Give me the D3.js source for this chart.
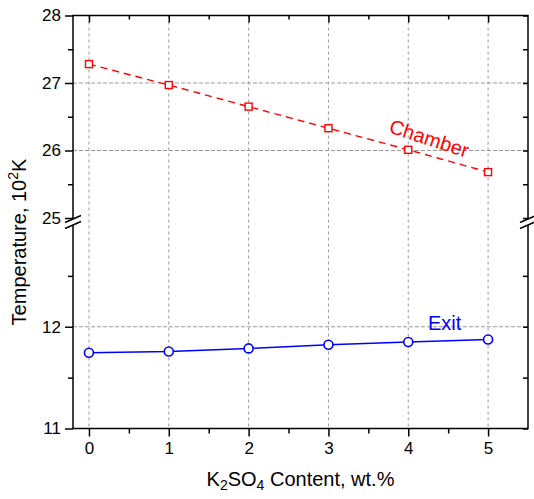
<!DOCTYPE html>
<html>
<head>
<meta charset="utf-8">
<script src="https://cdn.jsdelivr.net/npm/d3@7"></script>
<style>
  body { margin: 0; background: #fff; }
  svg { display: block; font-family: Arial, "Liberation Sans", sans-serif; }
</style>
</head>
<body>
<div id="chart"></div>
<script>
// K2SO4 content vs temperature (broken y axis)
const content = [0, 1, 2, 3, 4, 5];
const chamberTemp = [27.28, 26.97, 26.65, 26.33, 26.01, 25.68];
const exitTemp = [11.745, 11.757, 11.787, 11.823, 11.85, 11.875];
const xTicks = [0, 1, 2, 3, 4, 5];
const upperTicks = [25, 26, 27, 28];
const lowerTicks = [11, 12];

const width = 534, height = 499;
const plotLeft = 73, plotRight = 528, plotTop = 15.5, plotBottom = 428.5;
const breakTop = 218, breakBottom = 225;

const svg = d3.select('#chart').append('svg')
    .attr('width', width)
    .attr('height', height);

const x = d3.scaleLinear().domain([-0.2, 5.5]).range([plotLeft, plotRight]);
const yUp = d3.scaleLinear().domain([25, 28]).range([breakTop, plotTop]);
const yLo = d3.scaleLinear().domain([11, 13]).range([plotBottom, breakBottom]);

const gridColor = '#9a9a9a';

// Grid lines
const grid = svg.append('g');
grid.selectAll('.vgrid')
    .data(xTicks)
    .enter().append('line')
    .attr('x1', d => x(d)).attr('x2', d => x(d))
    .attr('y1', plotTop).attr('y2', plotBottom)
    .attr('stroke', gridColor).attr('stroke-dasharray', '3,3');
grid.selectAll('.hgridU')
    .data([26, 27])
    .enter().append('line')
    .attr('x1', plotLeft).attr('x2', plotRight)
    .attr('y1', d => yUp(d)).attr('y2', d => yUp(d))
    .attr('stroke', gridColor).attr('stroke-dasharray', '4,2');
grid.selectAll('.hgridL')
    .data([12])
    .enter().append('line')
    .attr('x1', plotLeft).attr('x2', plotRight)
    .attr('y1', d => yLo(d)).attr('y2', d => yLo(d))
    .attr('stroke', gridColor).attr('stroke-dasharray', '4,2');

// Axes
const minor = [0.5, 1.5, 2.5, 3.5, 4.5];

svg.append('g')
    .attr('transform', `translate(0,${plotBottom})`)
    .call(d3.axisBottom(x).tickValues(xTicks).tickSizeOuter(0).tickSizeInner(8).tickPadding(5).tickFormat(d3.format('d')))
    .call(g => g.select('.domain').remove());
svg.append('g')
    .attr('transform', `translate(0,${plotBottom})`)
    .call(d3.axisBottom(x).tickValues(minor).tickSizeOuter(0).tickSizeInner(5).tickFormat(''))
    .call(g => g.select('.domain').remove());
svg.append('g')
    .attr('transform', `translate(0,${plotTop})`)
    .call(d3.axisBottom(x).tickValues(xTicks).tickSizeOuter(0).tickSizeInner(7).tickFormat(''))
    .call(g => g.select('.domain').remove());
svg.append('g')
    .attr('transform', `translate(0,${plotTop})`)
    .call(d3.axisBottom(x).tickValues(minor).tickSizeOuter(0).tickSizeInner(4).tickFormat(''))
    .call(g => g.select('.domain').remove());

function yAxis(scale, ticks, minorTicks) {
    svg.append('g')
        .attr('transform', `translate(${plotLeft},0)`)
        .call(d3.axisLeft(scale).tickValues(ticks).tickSizeOuter(0).tickSizeInner(8).tickPadding(4).tickFormat(d3.format('d')))
        .call(g => g.select('.domain').remove());
    svg.append('g')
        .attr('transform', `translate(${plotLeft},0)`)
        .call(d3.axisLeft(scale).tickValues(minorTicks).tickSizeOuter(0).tickSizeInner(5).tickFormat(''))
        .call(g => g.select('.domain').remove());
    svg.append('g')
        .attr('transform', `translate(${plotRight},0)`)
        .call(d3.axisLeft(scale).tickValues(ticks.concat(minorTicks)).tickSizeOuter(0).tickSizeInner(5).tickFormat(''))
        .call(g => g.select('.domain').remove())
        .call(g => g.selectAll('line').attr('x2', -5));
}
yAxis(yUp, upperTicks, [25.5, 26.5, 27.5]);
yAxis(yLo, lowerTicks, [11.5, 12.5]);

svg.selectAll('.tick text').attr('font-size', 17).attr('fill', '#000')
    .attr('font-family', 'Arial, "Liberation Sans", sans-serif');
svg.selectAll('.tick line').attr('stroke', '#000').attr('stroke-width', 1.5);

// Frame
svg.append('rect')
    .attr('x', plotLeft).attr('y', plotTop)
    .attr('width', plotRight - plotLeft).attr('height', plotBottom - plotTop)
    .attr('fill', 'none').attr('stroke', '#000').attr('stroke-width', 1.5);

// Axis break marks
[plotLeft, plotRight].forEach(ax => {
    svg.append('rect')
        .attr('x', ax - 2).attr('y', breakTop + 1)
        .attr('width', 4).attr('height', breakBottom - breakTop - 1)
        .attr('fill', '#fff');
    [breakTop + 1, breakBottom].forEach(yb => {
        svg.append('line')
            .attr('x1', ax - 8).attr('y1', yb + 3.5)
            .attr('x2', ax + 8).attr('y2', yb - 3.5)
            .attr('stroke', '#000').attr('stroke-width', 1.5);
    });
});

// Chamber series
const chamber = content.map((c, i) => [c, chamberTemp[i]]);
svg.append('path')
    .datum(chamber)
    .attr('fill', 'none')
    .attr('stroke', '#ff0000')
    .attr('stroke-width', 1.4)
    .attr('stroke-dasharray', '7,5')
    .attr('d', d3.line().x(d => x(d[0])).y(d => yUp(d[1])));
svg.selectAll('.sq')
    .data(chamber)
    .enter().append('rect')
    .attr('x', d => x(d[0]) - 3.5).attr('y', d => yUp(d[1]) - 3.5)
    .attr('width', 7).attr('height', 7)
    .attr('fill', '#fff').attr('stroke', '#ff0000').attr('stroke-width', 1.4);

// Exit series
const exit = content.map((c, i) => [c, exitTemp[i]]);
svg.append('path')
    .datum(exit)
    .attr('fill', 'none')
    .attr('stroke', '#0000ff')
    .attr('stroke-width', 1.5)
    .attr('d', d3.line().x(d => x(d[0])).y(d => yLo(d[1])));
svg.selectAll('.circ')
    .data(exit)
    .enter().append('circle')
    .attr('cx', d => x(d[0])).attr('cy', d => yLo(d[1]))
    .attr('r', 4.5)
    .attr('fill', '#fff').attr('stroke', '#0000ff').attr('stroke-width', 1.6);

// Series labels
svg.append('text')
    .attr('transform', 'translate(427,145) rotate(18)')
    .attr('text-anchor', 'middle')
    .attr('font-size', 20)
    .attr('fill', '#ff0000')
    .text('Chamber');
svg.append('text')
    .attr('x', 428).attr('y', 330)
    .attr('font-size', 20)
    .attr('fill', '#0000ff')
    .text('Exit');

// Axis titles
const xt = svg.append('text')
    .attr('x', (plotLeft + plotRight) / 2).attr('y', 486)
    .attr('text-anchor', 'middle')
    .attr('font-size', 20);
xt.append('tspan').text('K');
xt.append('tspan').attr('font-size', 14).attr('dy', 4).text('2');
xt.append('tspan').attr('dy', -4).text('SO');
xt.append('tspan').attr('font-size', 14).attr('dy', 4).text('4');
xt.append('tspan').attr('dy', -4).text(' Content, wt.%');

const yt = svg.append('text')
    .attr('transform', `translate(26,${(plotTop + plotBottom) / 2 + 20}) rotate(-90)`)
    .attr('text-anchor', 'middle')
    .attr('font-size', 20);
yt.append('tspan').text('Temperature, 10');
yt.append('tspan').attr('font-size', 14).attr('dy', -8).text('2');
yt.append('tspan').attr('dy', 8).text('K');
</script>
</body>
</html>
